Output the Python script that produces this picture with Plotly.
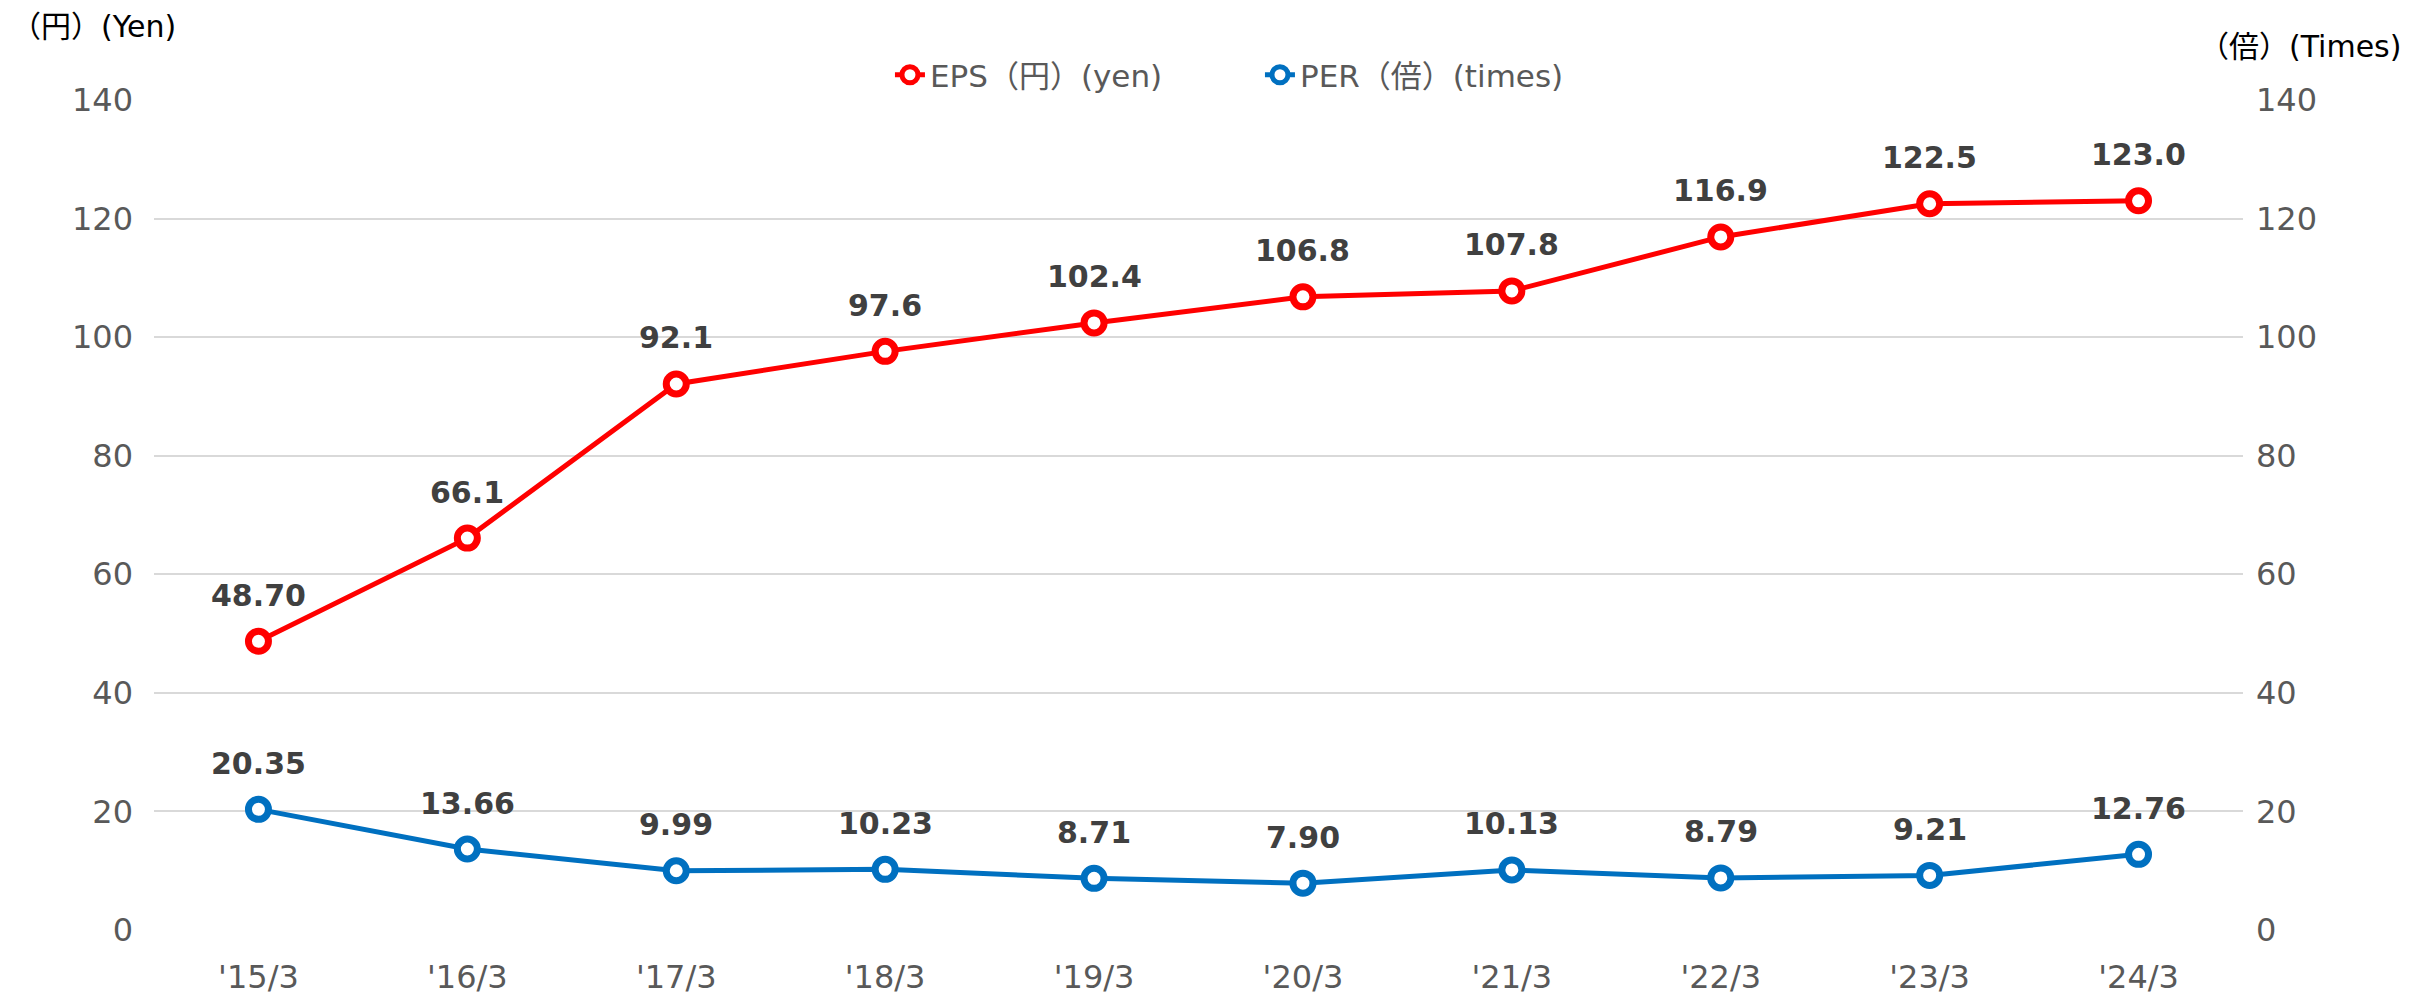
import plotly.graph_objects as go

categories = ["'15/3", "'16/3", "'17/3", "'18/3", "'19/3", "'20/3", "'21/3", "'22/3", "'23/3", "'24/3"]
eps_values = [48.70, 66.1, 92.1, 97.6, 102.4, 106.8, 107.8, 116.9, 122.5, 123.0]
eps_labels = ["48.70", "66.1", "92.1", "97.6", "102.4", "106.8", "107.8", "116.9", "122.5", "123.0"]
per_values = [20.35, 13.66, 9.99, 10.23, 8.71, 7.90, 10.13, 8.79, 9.21, 12.76]
per_labels = ["20.35", "13.66", "9.99", "10.23", "8.71", "7.90", "10.13", "8.79", "9.21", "12.76"]
y_ticks = [0, 20, 40, 60, 80, 100, 120, 140]

FONT = "DejaVu Sans, Noto Sans CJK JP, sans-serif"
RED = "#FF0000"
BLUE = "#0070C0"

fig = go.Figure()
fig.add_trace(go.Scatter(
    x=categories, y=eps_values, mode="lines+markers", name="EPS（円）(yen)",
    line=dict(color=RED, width=5),
    marker=dict(symbol="circle", size=20, color="white", line=dict(color=RED, width=7)),
))
fig.add_trace(go.Scatter(
    x=categories, y=per_values, mode="lines+markers", name="PER（倍）(times)",
    line=dict(color=BLUE, width=5),
    marker=dict(symbol="circle", size=20, color="white", line=dict(color=BLUE, width=7)),
    yaxis="y2",
))

annotations = []
for c, v, t in zip(categories, eps_values, eps_labels):
    annotations.append(dict(x=c, y=v, xref="x", yref="y", text="<b>%s</b>" % t,
                            showarrow=False, yshift=46, yanchor="middle",
                            font=dict(family=FONT, size=30, color="#404040")))
for c, v, t in zip(categories, per_values, per_labels):
    annotations.append(dict(x=c, y=v, xref="x", yref="y", text="<b>%s</b>" % t,
                            showarrow=False, yshift=46, yanchor="middle",
                            font=dict(family=FONT, size=30, color="#404040")))
annotations.append(dict(x=-0.0695, y=1.088, xref="paper", yref="paper", text="（円）(Yen)",
                        showarrow=False, xanchor="left", yanchor="middle",
                        font=dict(family=FONT, size=30, color="#000000")))
annotations.append(dict(x=1.0766, y=1.0639, xref="paper", yref="paper", text="（倍）(Times)",
                        showarrow=False, xanchor="right", yanchor="middle",
                        font=dict(family=FONT, size=30, color="#000000")))

fig.update_layout(
    width=2422, height=988,
    margin=dict(l=146, r=187, t=92, b=66, autoexpand=False),
    plot_bgcolor="white", paper_bgcolor="white",
    font=dict(family=FONT, size=30, color="#595959"),
    showlegend=True,
    legend=dict(orientation="h", x=0.3523, xanchor="left", y=1.030, yanchor="middle",
                entrywidth=325, entrywidthmode="pixels",
                font=dict(family=FONT, size=31, color="#595959"), bgcolor="rgba(0,0,0,0)"),
    xaxis=dict(type="category", range=[-0.5, 9.5], showgrid=False, showline=False, zeroline=False,
               tickfont=dict(family=FONT, size=32, color="#595959"), ticks="",
               ticklabelstandoff=25),
    yaxis=dict(range=[0, 140], tickvals=y_ticks, showgrid=True, gridcolor="#D9D9D9", gridwidth=2,
               zeroline=False, showline=False, ticks="", ticklabelstandoff=20,
               tickfont=dict(family=FONT, size=32, color="#595959")),
    yaxis2=dict(range=[0, 140], tickvals=y_ticks, overlaying="y", side="right", showgrid=False,
                zeroline=False, showline=False, ticks="", ticklabelstandoff=12,
                tickfont=dict(family=FONT, size=32, color="#595959")),
    annotations=annotations,
)

fig.write_html("out.html")
